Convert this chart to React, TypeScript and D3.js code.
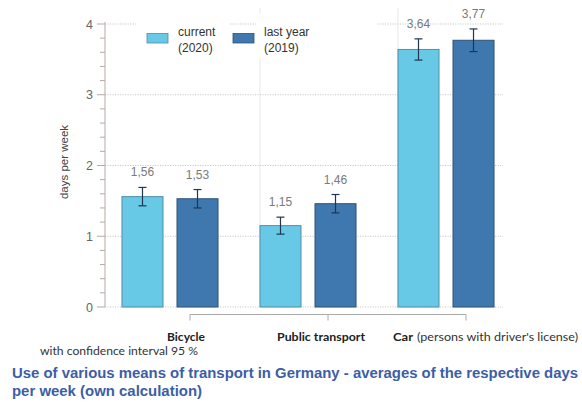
import * as d3 from "d3";

const categories = ["Bicycle", "Public transport", "Car"];
const seriesKeys = ["current", "lastYear"];
const seriesLabels = [
  ["current", "(2020)"],
  ["last year", "(2019)"],
];
const current2020 = [1.56, 1.15, 3.64];
const lastYear2019 = [1.53, 1.46, 3.77];
const ci2020 = [0.13, 0.12, 0.15];
const ci2019 = [0.13, 0.13, 0.16];
const valueLabels2020 = ["1,56", "1,15", "3,64"];
const valueLabels2019 = ["1,53", "1,46", "3,77"];
const yTicks = [0, 1, 2, 3, 4];

const W = 582;
const H = 403;

const fills = ["#68c9e6", "#3f78ae"];
const strokes = ["#4f8ea8", "#2e5275"];

export default function App() {
  const y = d3.scaleLinear().domain([0, 4]).range([307, 24]);
  const x = d3
    .scaleBand<string>()
    .domain(categories)
    .range([101, 515])
    .paddingInner(0.304)
    .paddingOuter(0.152);
  const xs = d3
    .scaleBand<string>()
    .domain(seriesKeys)
    .range([0, x.bandwidth()])
    .paddingInner(0.2545);

  const minorTicks = d3.range(0, 4.001, 0.2).filter((v) => Math.abs(v - Math.round(v)) > 0.01);

  const bars = categories.flatMap((c, i) => [
    { c, k: "current", v: current2020[i], ci: ci2020[i], lbl: valueLabels2020[i], s: 0 },
    { c, k: "lastYear", v: lastYear2019[i], ci: ci2019[i], lbl: valueLabels2019[i], s: 1 },
  ]);

  const axisX = 105;
  const plotRight = 503;
  const bracketY = 314.5;
  const bracketX = (c: string) => (x(c) ?? 0) + x.bandwidth() / 2 + 20;

  return (
    <svg
      width={W}
      height={H}
      style={{ position: "absolute", left: 0, top: 0, background: "#fff" }}
      fontFamily="'Liberation Sans', Arial, sans-serif"
    >
      {/* vertical faint separators */}
      {categories.slice(1).map((c) => (
        <line key={c} x1={x(c)} x2={x(c)} y1={8} y2={y(0)} stroke="#e8e8e8" strokeWidth={1} />
      ))}

      {/* dotted gridlines */}
      {yTicks.map((t) => (
        <line
          key={t}
          x1={axisX}
          x2={plotRight}
          y1={y(t)}
          y2={y(t)}
          stroke="#c9c9c9"
          strokeWidth={1}
          strokeDasharray="1.2 1.3"
        />
      ))}

      {/* legend */}
      <rect x={136} y={14} width={94} height={44} fill="#fff" />
      <rect x={256} y={14} width={121} height={44} fill="#fff" />
      {seriesLabels.map((lab, i) => {
        const sx = i === 0 ? 147 : 233;
        return (
          <g key={i}>
            <rect x={sx} y={33.5} width={21} height={9.5} fill={fills[i]} stroke={strokes[i]} strokeWidth={0.8} />
            <text x={sx + 31} y={36} fontSize={12} fill="#333">
              {lab[0]}
            </text>
            <text x={sx + 31} y={52} fontSize={12} fill="#333">
              {lab[1]}
            </text>
          </g>
        );
      })}

      {/* bars */}
      {bars.map((b, i) => {
        const bx = (x(b.c) ?? 0) + (xs(b.k) ?? 0);
        const cx = bx + xs.bandwidth() / 2;
        const top = y(b.v);
        const e1 = y(b.v + b.ci);
        const e2 = y(b.v - b.ci);
        return (
          <g key={i}>
            <rect
              x={bx}
              y={top}
              width={xs.bandwidth()}
              height={y(0) - top}
              fill={fills[b.s]}
              stroke={strokes[b.s]}
              strokeWidth={1}
            />
            <line x1={cx} x2={cx} y1={e1} y2={e2} stroke="#1f3550" strokeWidth={1.2} />
            <line x1={cx - 4} x2={cx + 4} y1={e1} y2={e1} stroke="#1f3550" strokeWidth={1.2} />
            <line x1={cx - 4} x2={cx + 4} y1={e2} y2={e2} stroke="#1f3550" strokeWidth={1.2} />
            <text x={cx} y={e1 - 11} textAnchor="middle" fontSize={12} fill="#7a7a7a">
              {b.lbl}
            </text>
          </g>
        );
      })}

      {/* y axis */}
      <line x1={axisX} x2={axisX} y1={y(4) - 2} y2={y(0)} stroke="#b5aaa5" strokeWidth={1} />
      {yTicks.map((t) => (
        <g key={t}>
          <line x1={axisX - 8} x2={axisX} y1={y(t)} y2={y(t)} stroke="#b5aaa5" strokeWidth={1} />
          <text x={axisX - 12} y={y(t) + 4.5} textAnchor="end" fontSize={12.5} fill="#666">
            {t}
          </text>
        </g>
      ))}
      {minorTicks.map((t) => (
        <line key={t} x1={axisX - 5} x2={axisX} y1={y(t)} y2={y(t)} stroke="#b5aaa5" strokeWidth={1} />
      ))}
      <text
        transform={`translate(68,162) rotate(-90)`}
        textAnchor="middle"
        fontSize={11.5}
        fill="#444"
      >
        days per week
      </text>

      {/* bottom bracket axis */}
      <line
        x1={bracketX(categories[0])}
        x2={bracketX(categories[2])}
        y1={bracketY}
        y2={bracketY}
        stroke="#aaa"
        strokeWidth={1}
      />
      {categories.map((c) => (
        <line key={c} x1={bracketX(c)} x2={bracketX(c)} y1={bracketY} y2={bracketY + 6} stroke="#aaa" strokeWidth={1} />
      ))}

      {/* category labels */}
      <g fontFamily="Lato, 'Open Sans', sans-serif" fontSize={12} fill="#222">
        <text x={167} y={341} fontWeight="bold" textLength={38} lengthAdjust="spacingAndGlyphs">
          {categories[0]}
        </text>
        <text x={277} y={341} fontWeight="bold" textLength={88} lengthAdjust="spacingAndGlyphs">
          {categories[1]}
        </text>
        <text x={393} y={341} fontWeight="bold" textLength={20} lengthAdjust="spacingAndGlyphs">
          {categories[2]}
        </text>
        <text x={417} y={341} fill="#333" textLength={161} lengthAdjust="spacingAndGlyphs">
          (persons with driver's license)
        </text>
        <text x={40} y={355} fill="#333" textLength={158} lengthAdjust="spacingAndGlyphs">
          with confidence interval 95 %
        </text>
      </g>

      {/* caption */}
      <g fontSize={14} fontWeight="bold" fill="#3c5ea6">
        <text x={12} y={378} textLength={566} lengthAdjust="spacingAndGlyphs">
          Use of various means of transport in Germany - averages of the respective days
        </text>
        <text x={12} y={396} textLength={190} lengthAdjust="spacingAndGlyphs">
          per week (own calculation)
        </text>
      </g>
    </svg>
  );
}
